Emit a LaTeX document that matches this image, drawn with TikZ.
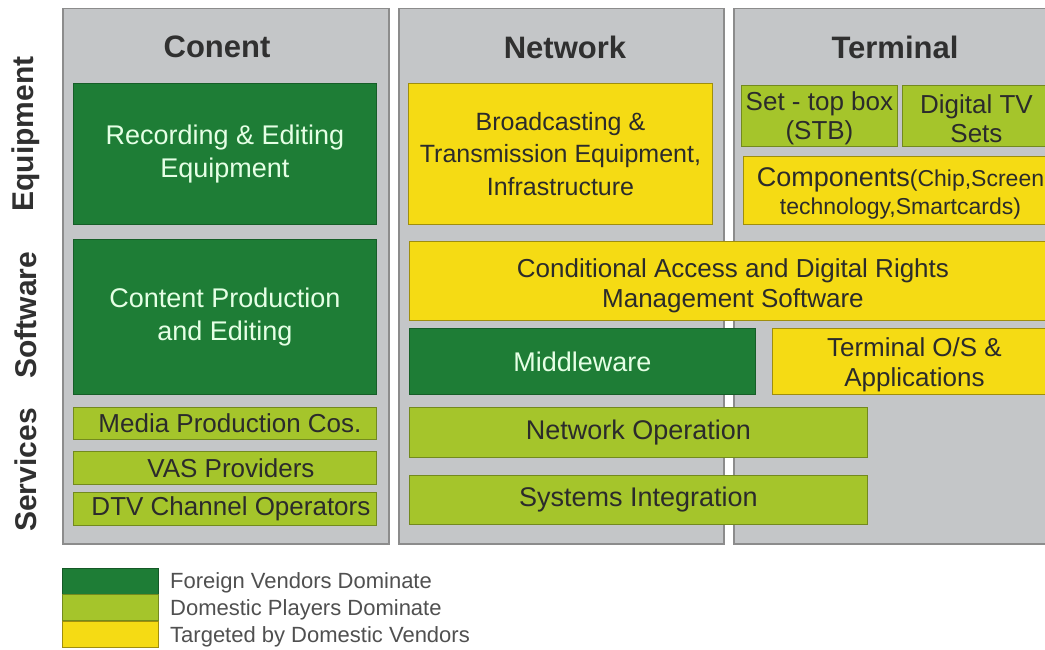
\documentclass[tikz,border=0pt]{standalone}
\usepackage{fontspec}
\setmainfont{Liberation Sans}
\definecolor{dkgreen}{HTML}{1E7D36}
\definecolor{ltgreen}{HTML}{A5C52B}
\definecolor{ylw}{HTML}{F5DB14}
\definecolor{panelgray}{HTML}{C4C6C8}
\definecolor{panelline}{HTML}{8C8C8C}
\definecolor{txtdark}{HTML}{2B2B2B}
\definecolor{headtxt}{HTML}{303030}
\definecolor{legtxt}{HTML}{505050}
\begin{document}
\begin{tikzpicture}[x=1pt,y=-1pt,
  panel/.style={anchor=north west, inner sep=0pt, draw=panelline, line width=1.5pt, fill=panelgray},
  head/.style={inner sep=0pt, text=headtxt, font=\bfseries\fontsize{31}{36}\selectfont},
  rowlab/.style={inner sep=0pt, rotate=90, text=headtxt, font=\bfseries\fontsize{30}{34}\selectfont},
  cell/.style={anchor=north west, inner sep=0pt, align=center, line width=0.9pt},
  fsA/.style={font=\fontsize{27}{33}\selectfont},
  fsB/.style={font=\fontsize{26}{30}\selectfont},
  fore/.style={cell, fill=dkgreen, draw=dkgreen!75!black, text=white!90!green},
  dom/.style={cell, fill=ltgreen, draw=ltgreen!70!black, text=txtdark},
  targ/.style={cell, fill=ylw, draw=ylw!65!black, text=txtdark},
  swatch/.style={anchor=north west, inner sep=0pt, minimum width=96pt, minimum height=26pt, line width=0.8pt},
  legtext/.style={anchor=west, inner sep=0pt, text=legtxt, font=\fontsize{22}{26}\selectfont}]
\useasboundingbox (0,0) rectangle (1045,650);
\clip (0,0) rectangle (1045,650);
\fill[white] (0,0) rectangle (1045,650);

% panels
\node[panel, minimum width=326pt, minimum height=535pt] (pc) at (62,8) {};
\node[panel, minimum width=325pt, minimum height=535pt] (pn) at (398,8) {};
\node[panel, minimum width=330pt, minimum height=535pt] (pt) at (733,8) {};
\node[head] (hc) at (217,47) {Conent};
\node[head] (hn) at (565,47) {Network};
\node[head] (ht) at (895,47) {Terminal};

% row labels
\node[rowlab] (leq) at (26,134) {Equipment};
\node[rowlab] (lsw) at (26,315) {Software};
\node[rowlab] (lsv) at (26,470) {Services};

% Content column
\node[fore, fsA, minimum width=303pt, minimum height=141pt] (rec) at (73,83) {Recording \& Editing\\Equipment};
\node[fore, fsA, minimum width=303pt, minimum height=155pt] (cpe) at (73,239) {Content Production\\and Editing};
\node[dom, fsB, minimum width=303pt, minimum height=32pt] (mpc) at (73,407) {\hspace*{10pt}Media Production Cos.};
\node[dom, fsB, minimum width=303pt, minimum height=33pt] (vas) at (73,451) {\hspace*{12pt}VAS Providers};
\node[dom, fsB, minimum width=303pt, minimum height=33pt] (dtv) at (73,492) {\hspace*{12pt}DTV Channel Operators};

% Network column
\node[targ, font=\fontsize{25}{32.5}\selectfont, minimum width=304pt, minimum height=141pt] (bte) at (408,83) {Broadcasting \&\\Transmission Equipment,\\Infrastructure};
\node[targ, fsB, minimum width=647pt, minimum height=79pt] (cad) at (409,241) {\rule{0pt}{28pt}Conditional Access and Digital Rights\\Management Software};
\node[fore, fsA, minimum width=346pt, minimum height=66pt] (mid) at (409,328) {Middleware};
\node[dom, fsA, minimum width=458pt, minimum height=50pt] (nop) at (409,407) {Network Operation};
\node[dom, fsA, minimum width=458pt, minimum height=49pt] (sin) at (409,475) {Systems Integration};

% Terminal column
\node[dom, font=\fontsize{26}{29}\selectfont, minimum width=156pt, minimum height=61pt] (stb) at (741,85) {\rule{0pt}{24pt}Set - top box\\(STB)};
\node[dom, font=\fontsize{26}{29}\selectfont, minimum width=148pt, minimum height=61pt] (dtvs) at (902,85) {\rule{0pt}{24pt}Digital TV\\Sets};
\node[targ, font=\fontsize{27}{28}\selectfont, minimum width=314pt, minimum height=68pt] (comp) at (743,156) {\rule{0pt}{25pt}Components{\fontsize{23}{28}\selectfont(Chip,Screen}\\{\fontsize{23}{28}\selectfont technology,Smartcards)}};
\node[targ, fsB, minimum width=284pt, minimum height=66pt] (tos) at (772,328) {\rule{0pt}{25pt}Terminal O/S \&\\Applications};

% legend
\node[swatch, fill=dkgreen, draw=dkgreen!70!black] (sw1) at (62,568) {};
\node[swatch, fill=ltgreen, draw=ltgreen!70!black] (sw2) at (62,594) {};
\node[swatch, fill=ylw, draw=ylw!65!black] (sw3) at (62,621) {};
\node[legtext] (lt1) at (170,583) {Foreign Vendors Dominate};
\node[legtext] (lt2) at (170,610) {Domestic Players Dominate};
\node[legtext] (lt3) at (170,637) {Targeted by Domestic Vendors};
\end{tikzpicture}
\end{document}
